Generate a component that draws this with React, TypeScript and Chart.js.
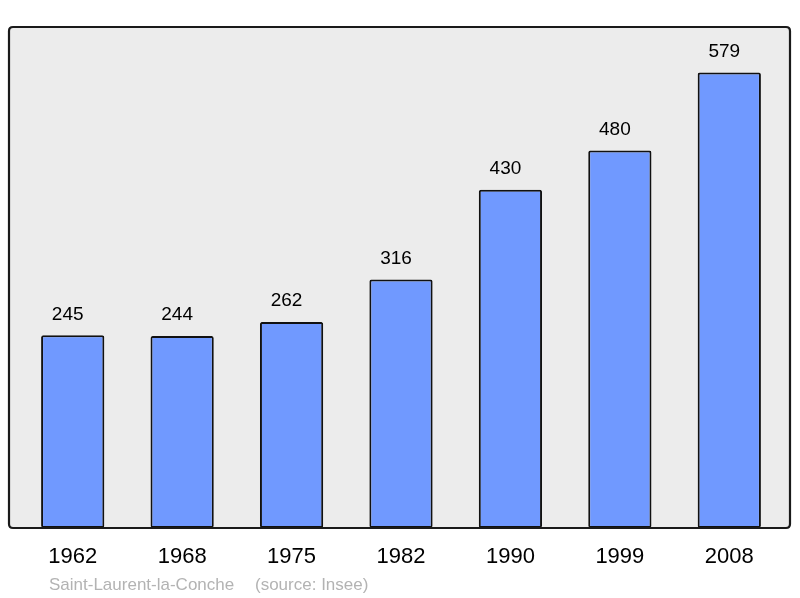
import React, { useEffect, useRef } from "react";
import { Chart, registerables } from "chart.js";

Chart.register(...registerables);

const years = ["1962", "1968", "1975", "1982", "1990", "1999", "2008"];
const population = [245, 244, 262, 316, 430, 480, 579];
const placeName = "Saint-Laurent-la-Conche";
const sourceText = "(source: Insee)";

const FONT = "'Liberation Sans', Arial, sans-serif";

function roundRect(ctx: CanvasRenderingContext2D, x: number, y: number, w: number, h: number, r: number) {
  ctx.beginPath();
  ctx.moveTo(x + r, y);
  ctx.lineTo(x + w - r, y);
  ctx.quadraticCurveTo(x + w, y, x + w, y + r);
  ctx.lineTo(x + w, y + h - r);
  ctx.quadraticCurveTo(x + w, y + h, x + w - r, y + h);
  ctx.lineTo(x + r, y + h);
  ctx.quadraticCurveTo(x, y + h, x, y + h - r);
  ctx.lineTo(x, y + r);
  ctx.quadraticCurveTo(x, y, x + r, y);
  ctx.closePath();
}

const BOX = { x: 9, y: 27, w: 781, h: 501 };

const decor = {
  id: "decor",
  beforeDatasetsDraw(chart: any) {
    const ctx = chart.ctx;
    ctx.save();
    roundRect(ctx, BOX.x, BOX.y, BOX.w, BOX.h, 4);
    ctx.fillStyle = "#ececec";
    ctx.fill();
    ctx.restore();
  },
  afterDatasetsDraw(chart: any) {
    const ctx = chart.ctx;
    ctx.save();
    roundRect(ctx, BOX.x, BOX.y, BOX.w, BOX.h, 4);
    ctx.lineWidth = 2.2;
    ctx.strokeStyle = "#1a1a1a";
    ctx.stroke();

    const meta = chart.getDatasetMeta(0);
    const xScale = chart.scales.x;
    ctx.fillStyle = "#000";
    ctx.textAlign = "center";
    ctx.textBaseline = "middle";
    ctx.font = `19px ${FONT}`;
    meta.data.forEach((bar: any, i: number) => {
      ctx.fillText(String(population[i]), bar.x - 5, bar.y - 21);
    });
    ctx.font = `22px ${FONT}`;
    years.forEach((y, i) => {
      ctx.fillText(y, xScale.getPixelForValue(i), 557);
    });
    ctx.textAlign = "left";
    ctx.fillStyle = "#b3b3b3";
    ctx.font = `17px ${FONT}`;
    ctx.fillText(placeName, 49, 585);
    ctx.fillText(sourceText, 255, 585);
    ctx.restore();
  },
};

export default function App() {
  const ref = useRef<HTMLCanvasElement | null>(null);
  useEffect(() => {
    if (!ref.current) return;
    const chart = new Chart(ref.current, {
      type: "bar",
      data: {
        labels: years,
        datasets: [
          {
            data: population,
            backgroundColor: "#7099ff",
            borderColor: "#111",
            borderWidth: 2,
            borderSkipped: false,
            borderRadius: 2,
            categoryPercentage: 1,
            barPercentage: 0.578,
          },
        ],
      },
      options: {
        responsive: false,
        animation: false,
        layout: { padding: { left: 18, right: 16, top: 27, bottom: 70 } },
        plugins: { legend: { display: false }, tooltip: { enabled: false } },
        scales: {
          x: { display: false },
          y: { display: false, min: 0, max: 637 },
        },
      },
      plugins: [decor],
    });
    return () => chart.destroy();
  }, []);
  return (
    <div style={{ position: "fixed", left: 0, top: 0, width: 800, height: 598, background: "#fff" }}>
      <canvas ref={ref} width={800} height={598} />
    </div>
  );
}
